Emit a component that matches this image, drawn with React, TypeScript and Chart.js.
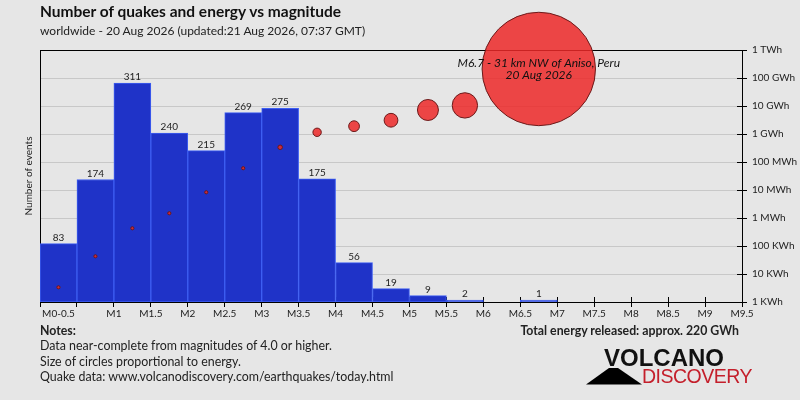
import React, { useEffect, useRef } from "react";
import { Chart, registerables } from "chart.js";
Chart.register(...registerables);

// ---- data ----
const binStarts = [0, 0.5, 1, 1.5, 2, 2.5, 3, 3.5, 4, 4.5, 5, 5.5, 6, 6.5];
const quakeCounts = [83, 174, 311, 240, 215, 269, 275, 175, 56, 19, 9, 2, 0, 1];
const energyKWh: (number | null)[] = [3.35, 43, 430, 1480, 8300, 60000, 335000, 1.15e6, 1.9e6, 3.1e6, 7.2e6, 1.05e7, null, 2.1e8];
const binWidth = 0.5;
const xTickValues = [0, 0.5, 1, 1.5, 2, 2.5, 3, 3.5, 4, 4.5, 5, 5.5, 6, 6.5, 7, 7.5, 8, 8.5, 9, 9.5];
const xTickLabels = ["", "", "M1", "M1.5", "M2", "M2.5", "M3", "M3.5", "M4", "M4.5", "M5", "M5.5", "M6", "M6.5", "M7", "M7.5", "M8", "M8.5", "M9", "M9.5"];
const firstBinLabel = "M0-0.5";
const energyTickValues = [1, 10, 100, 1e3, 1e4, 1e5, 1e6, 1e7, 1e8, 1e9];
const energyTickLabels = ["1 KWh", "10 KWh", "100 KWh", "1 MWh", "10 MWh", "100 MWh", "1 GWh", "10 GWh", "100 GWh", "1 TWh"];
const biggestQuakeLabel = ["M6.7 - 31 km NW of Aniso, Peru", "20 Aug 2026"];
const notesLines = [
  "Data near-complete from magnitudes of 4.0 or higher.",
  "Size of circles proportional to energy.",
  "Quake data: www.volcanodiscovery.com/earthquakes/today.html",
];
const titleText = "Number of quakes and energy vs magnitude";
const subtitleText = "worldwide - 20 Aug 2026 (updated:21 Aug 2026, 07:37 GMT)";
const totalText = "Total energy released: approx. 220 GWh";

const FONT = "Lato";
const MAX_R = 56.7;
const energyMax = Math.max(...(energyKWh.filter((e) => e !== null) as number[]));

const customPlugin = {
  id: "quakeDecor",
  beforeDatasetsDraw(chart: any) {
    const { ctx, chartArea: a, scales } = chart;
    ctx.save();
    ctx.strokeStyle = "#000";
    ctx.lineWidth = 1;
    ctx.beginPath();
    scales.x.ticks.forEach((t: any) => {
      const px = Math.round(scales.x.getPixelForValue(t.value)) + 0.5;
      ctx.moveTo(px, a.bottom - 5);
      ctx.lineTo(px, a.bottom);
    });
    scales.y2.ticks.forEach((t: any) => {
      const py = Math.round(scales.y2.getPixelForValue(t.value)) + 0.5;
      ctx.moveTo(a.right - 5, py);
      ctx.lineTo(a.right, py);
    });
    ctx.stroke();
    ctx.strokeRect(Math.round(a.left) + 0.5, Math.round(a.top) + 0.5, Math.round(a.right - a.left), Math.round(a.bottom - a.top));
    ctx.restore();
  },
  afterDatasetsDraw(chart: any) {
    const { ctx, chartArea: a, scales } = chart;
    ctx.save();
    // bar value labels
    const meta = chart.getDatasetMeta(0);
    const barData = chart.data.datasets[0].data as any[];
    ctx.font = `10px ${FONT}`;
    ctx.fillStyle = "#222";
    ctx.textAlign = "center";
    ctx.textBaseline = "alphabetic";
    meta.data.forEach((bar: any, i: number) => {
      ctx.fillText(String(barData[i].y), bar.x, bar.y - 3);
    });
    // first bin label
    ctx.textBaseline = "middle";
    ctx.fillText(firstBinLabel, scales.x.getPixelForValue(binStarts[0] + binWidth / 2), scales.x.top + 5 + 1 + 6);
    // annotation on biggest quake
    const idx = energyKWh.indexOf(energyMax);
    const px = scales.x.getPixelForValue(binStarts[idx] + binWidth / 2);
    const py = scales.y2.getPixelForValue(energyMax);
    ctx.font = `italic 12px ${FONT}`;
    ctx.fillStyle = "#111";
    ctx.fillText(biggestQuakeLabel[0], px, py - 5.5);
    ctx.fillText(biggestQuakeLabel[1], px, py + 6.5);
    // left axis title
    ctx.translate(29, (a.top + a.bottom) / 2);
    ctx.rotate(-Math.PI / 2);
    ctx.font = `10px ${FONT}`;
    ctx.fillStyle = "#222";
    ctx.fillText("Number of events", 0, 0);
    ctx.restore();
  },
};

function Txt(props: {
  x?: number; right?: number; baseline: number; size: number; weight?: any; italic?: boolean;
  color?: string; family?: string; asc?: number; spacing?: number; children: any;
}) {
  const asc = props.asc ?? 0.887;
  const style: any = {
    position: "absolute",
    top: props.baseline - asc * props.size,
    fontSize: props.size,
    lineHeight: `${props.size}px`,
    fontFamily: props.family ?? FONT,
    fontWeight: props.weight ?? "normal",
    fontStyle: props.italic ? "italic" : "normal",
    color: props.color ?? "#222",
    whiteSpace: "nowrap",
    letterSpacing: props.spacing ? `${props.spacing}px` : undefined,
  };
  if (props.right !== undefined) {
    style.right = props.right;
    style.textAlign = "right";
  } else style.left = props.x;
  return <div style={style}>{props.children}</div>;
}

export default function App() {
  const ref = useRef<HTMLCanvasElement | null>(null);
  useEffect(() => {
    document.body.style.margin = "0";
    const canvas = ref.current!;
    const barPoints = binStarts
      .map((b, i) => ({ x: b + binWidth / 2, y: quakeCounts[i] }))
      .filter((p) => p.y > 0);
    const energyPoints = binStarts
      .map((b, i) => ({ x: b + binWidth / 2, y: energyKWh[i] }))
      .filter((p) => p.y !== null);
    const chart = new Chart(canvas, {
      type: "bar",
      data: {
        datasets: [
          {
            type: "bar",
            data: barPoints as any,
            xAxisID: "x",
            yAxisID: "y",
            backgroundColor: "#1f33c8",
            borderColor: "#3e5ff2",
            borderWidth: 1,
            borderSkipped: false,
            barPercentage: 1,
            categoryPercentage: 1,
            minBarLength: 2,
            order: 1,
          } as any,
          {
            type: "line",
            data: energyPoints as any,
            xAxisID: "x",
            yAxisID: "y2",
            showLine: false,
            clip: false,
            pointRadius: (c: any) => Math.max(1.6, MAX_R * Math.sqrt((c.raw?.y ?? 0) / energyMax)),
            pointBackgroundColor: "rgba(236,40,40,0.85)",
            pointBorderColor: "#6b1a1a",
            pointBorderWidth: 1,
            order: 0,
          } as any,
        ],
      },
      options: {
        responsive: false,
        animation: false,
        events: [],
        layout: { autoPadding: false, padding: { top: 50, left: 0, right: 0, bottom: 78 } },
        plugins: { legend: { display: false }, tooltip: { enabled: false } },
        scales: {
          x: {
            type: "linear",
            position: "bottom",
            offset: false,
            min: 0,
            max: 9.5,
            afterBuildTicks: (s: any) => { s.ticks = xTickValues.map((v) => ({ value: v })); },
            afterFit: (s: any) => { s.height = 20; },
            ticks: {
              autoSkip: false,
              maxRotation: 0,
              padding: 1,
              font: { family: FONT, size: 10 },
              color: "#222",
              callback: (_v: any, i: number) => xTickLabels[i],
            },
            grid: { drawOnChartArea: false, offset: false, tickLength: 5, tickColor: "#000", color: "#000" },
            border: { display: false },
          },
          y: {
            type: "linear",
            position: "left",
            min: 0,
            max: 358,
            afterFit: (s: any) => { s.width = 40; },
            ticks: { display: false },
            grid: { display: false },
            border: { display: false },
          },
          y2: {
            type: "logarithmic",
            position: "right",
            min: 1,
            max: 1e9,
            afterBuildTicks: (s: any) => { s.ticks = energyTickValues.map((v) => ({ value: v })); },
            afterFit: (s: any) => { s.width = 58; },
            ticks: {
              padding: 5,
              font: { family: FONT, size: 10 },
              color: "#222",
              callback: (_v: any, i: number) => energyTickLabels[i],
            },
            grid: { color: "#c8c8c8", tickColor: "#000", tickLength: 5 },
            border: { display: false },
          },
        },
      } as any,
      plugins: [customPlugin],
    });
    return () => chart.destroy();
  }, []);

  return (
    <div style={{ position: "relative", width: 800, height: 400, background: "#e6e6e6", overflow: "hidden", fontFamily: FONT }}>
      <canvas ref={ref} width={800} height={400} style={{ position: "absolute", left: 0, top: 0, width: 800, height: 400 }} />
      <Txt x={40} baseline={17.5} size={15.5} weight="bold" color="#111">{titleText}</Txt>
      <Txt x={40} baseline={36} size={12}>{subtitleText}</Txt>
      <Txt x={40} baseline={335.5} size={12.3} weight="bold">Notes:</Txt>
      {notesLines.map((l, i) => (
        <Txt key={i} x={40} baseline={351 + i * 15.5} size={12.4}>{l}</Txt>
      ))}
      <Txt right={61} baseline={335.5} size={12.3} weight="bold">{totalText}</Txt>
      <svg style={{ position: "absolute", left: 0, top: 0 }} width={800} height={400}>
        <polygon points="586,384.5 609,368 618,368 642,384.5" fill="#000" />
      </svg>
      <Txt x={604} baseline={366.7} size={24} weight="bold" color="#111" family="Liberation Sans" asc={0.8465}>VOLCANO</Txt>
      <Txt x={642} baseline={383.5} size={19.5} color="#c41f2b" family="Liberation Sans" asc={0.8465} spacing={-0.5}>DISCOVERY</Txt>
    </div>
  );
}
